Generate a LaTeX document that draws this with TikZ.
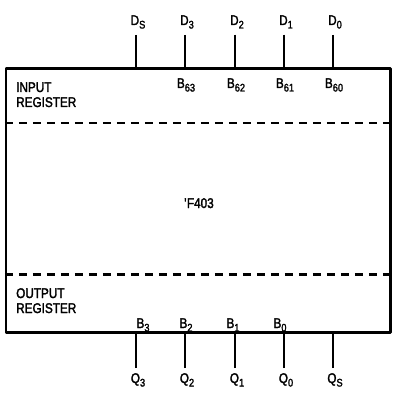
\documentclass[tikz,border=0pt]{standalone}
\usepackage{fontspec}
\setmainfont{Liberation Sans}[FakeStretch=0.84, FakeBold=2]
\newcommand{\pinsub}[1]{\raisebox{-3.5pt}{\fontsize{11}{11}\selectfont #1}}
\begin{document}
\begin{tikzpicture}[x=1pt, y=-1pt, line width=2.4pt, line join=round,
  font=\fontsize{14}{16}\selectfont,
  pinlbl/.style={anchor=base, inner sep=0pt},
  reglbl/.style={anchor=base west, inner sep=0pt},
  regdash/.style={line width=2.2pt, dash pattern=on 8pt off 6pt}]
\useasboundingbox (0,0) rectangle (392,395);
\node[draw, minimum width=384.5pt, minimum height=264pt, inner sep=0pt] (reg) at (198.25,200.5) {};
\node[anchor=base, inner sep=0pt] (name) at (199,208) {\textquotesingle F403};
\draw[regdash] (reg.west |- 0,123) -- (reg.east |- 0,123)
  (reg.west |- 0,274.5) -- (reg.east |- 0,274.5);
\node[reglbl] (inreg1) at (15,92) {INPUT};
\node[reglbl] (inreg2) at (15,107) {REGISTER};
\node[reglbl] (outreg1) at (15,298) {OUTPUT};
\node[reglbl] (outreg2) at (15,313) {REGISTER};
% inputs
\foreach \n/\x in {S/136,3/185,2/235,1/284,0/333}{
  \node[pinlbl] (D\n) at (\x+2,25) {D\pinsub{\n}};
  \draw[shorten <=5pt] (D\n.south -| \x,0) -- (reg.north -| \x,0);
}
\foreach \n/\x in {63/185,62/235,61/284,60/333}
  \node[pinlbl] (B\n) at (\x+1,88) {B\pinsub{\n}};
% outputs
\foreach \n/\x in {3/136,2/185,1/235,0/284,S/333}{
  \node[pinlbl] (Q\n) at (\x+2,383) {Q\pinsub{\n}};
  \draw[shorten <=4pt] (Q\n.north -| \x,0) -- (reg.south -| \x,0);
}
\foreach \n/\x in {3/143,2/186,1/233,0/280}
  \node[pinlbl] (B\n) at (\x,328) {B\pinsub{\n}};
\end{tikzpicture}
\end{document}
